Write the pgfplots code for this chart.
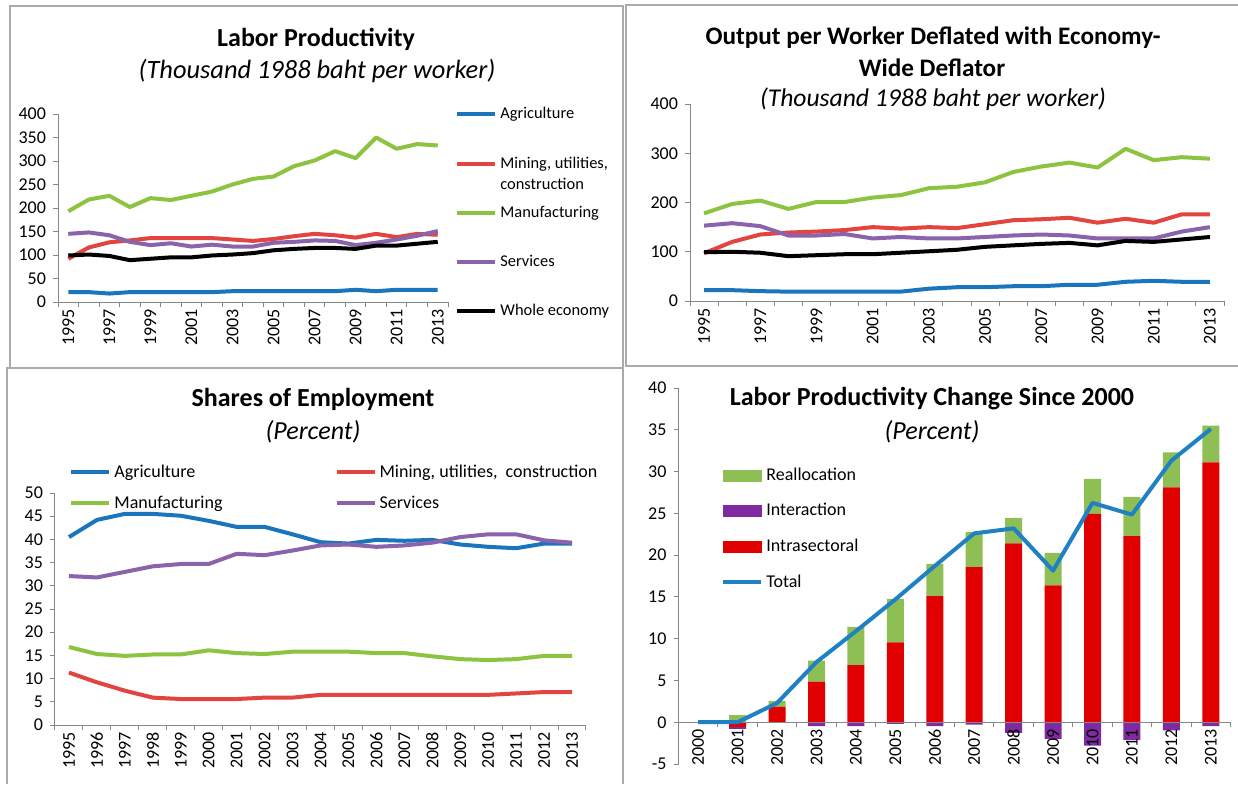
\documentclass[border=0pt]{standalone}
\usepackage{fontspec}
\setmainfont{Carlito}
\usepackage{pgfplots}
\usepackage{pgfplotstable}
\pgfplotsset{compat=1.18}

\definecolor{lblue}{HTML}{1B75BC}
\definecolor{lred}{HTML}{E2453F}
\definecolor{lgreen}{HTML}{8CC341}
\definecolor{lpurple}{HTML}{8B62AC}
\definecolor{barred}{HTML}{E00000}
\definecolor{barpurple}{HTML}{7F2AA0}
\definecolor{bargreen}{HTML}{8EBF55}
\definecolor{totblue}{HTML}{1F80C4}
\definecolor{axisgray}{HTML}{878787}
\definecolor{framegray}{HTML}{ABABAB}

% labor productivity, thousand 1988 baht per worker (index 0 = 1995)
\pgfplotstableread{
i agr min man ser all
0 21 92 193 145 99
1 21 116 218 148 101
2 18 127 226 142 98
3 21 131 202 128 89
4 21 136 221 121 92
5 21 136 217 125 95
6 21 136 226 118 95
7 21 136 235 122 99
8 23 133 250 118 101
9 23 130 262 118 104
10 23 134 267 126 110
11 23 140 289 128 113
12 23 145 301 131 115
13 23 142 321 130 115
14 26 137 306 121 113
15 23 145 350 126 120
16 26 138 326 133 120
17 26 145 336 141 124
18 26 143 333 151 128
}\prodA

% output per worker, economy-wide deflator
\pgfplotstableread{
i agr min man ser all
0 22 97 178 153 99
1 22 120 197 158 100
2 20 135 204 152 98
3 19 139 187 133 91
4 19 141 201 133 93
5 19 144 201 136 95
6 19 150 210 127 95
7 19 147 215 130 98
8 25 150 229 127 101
9 28 148 232 127 104
10 28 156 241 130 110
11 30 164 262 133 113
12 30 166 273 135 116
13 33 169 281 133 118
14 33 159 271 127 113
15 39 167 309 127 122
16 41 159 286 127 120
17 39 176 292 141 125
18 39 176 289 150 130
}\prodB

% shares of employment, percent
\pgfplotstableread{
i agr min man ser
0 40.5 11.3 16.8 32.1
1 44.2 9.2 15.3 31.8
2 45.5 7.4 14.9 33.0
3 45.5 5.9 15.2 34.2
4 45.1 5.6 15.2 34.7
5 44.0 5.6 16.1 34.7
6 42.7 5.6 15.5 36.9
7 42.7 5.9 15.3 36.6
8 41.1 5.9 15.8 37.6
9 39.4 6.5 15.8 38.7
10 39.1 6.5 15.8 38.9
11 39.9 6.5 15.5 38.4
12 39.7 6.5 15.5 38.7
13 39.9 6.5 14.8 39.3
14 38.9 6.5 14.2 40.5
15 38.4 6.5 14.0 41.1
16 38.1 6.8 14.2 41.1
17 39.1 7.1 14.9 39.8
18 39.1 7.1 14.9 39.3
}\shares

% productivity change since 2000 (index 0 = 2000)
\pgfplotstableread{
i intra inter realloc tot
0 0 0 0 0
1 -0.55 -0.25 0.85 0
2 1.85 0 0.70 2.3
3 4.87 -0.48 2.51 7.2
4 6.82 -0.48 4.59 10.9
5 9.57 -0.20 5.19 14.7
6 15.08 -0.48 3.87 18.7
7 18.55 -0.28 4.19 22.6
8 21.42 -1.28 3.03 23.2
9 16.39 -2.00 3.87 18.15
10 24.93 -2.79 4.19 26.25
11 22.26 -2.15 4.70 24.85
12 28.12 -0.96 4.19 31.3
13 31.11 -0.48 4.39 35.1
}\chg

\pgfplotsset{
  panel/.style={
    scale only axis, anchor=south west, clip=false,
    axis x line*=bottom, axis y line*=left,
    axis line style={draw=axisgray, line width=0.5pt, -},
    tick style={draw=axisgray, line width=0.5pt},
    tick align=outside, major tick length=2.5pt,
    tick label style={font=\fontsize{9}{10}\selectfont},
    /pgf/number format/assume math mode=true,
    xticklabel style={rotate=90, anchor=east},
    xticklabels={},
    extra x tick style={major tick length=0pt},
    legend cell align=left,
  },
  ln/.style={line width=2pt, line join=round, mark=none},
  chgbox/.style={scale only axis, anchor=south west, at={(339.25pt,10pt)},
    width=276pt, height=188pt, xmin=-0.5, xmax=13.5, ymin=-5, ymax=40},
}

\begin{document}
\begin{tikzpicture}
\useasboundingbox (0pt,0pt) rectangle (619pt,392pt);

% panel frames
\draw[framegray, line width=0.75pt] (5pt,208pt) rectangle (311.5pt,389pt);
\draw[framegray, line width=0.75pt] (619pt,389.5pt) -- (313pt,389.5pt) -- (313pt,209pt) -- (619pt,209pt);
\draw[framegray, line width=0.75pt] (3.5pt,0pt) -- (3.5pt,208pt) -- (311.5pt,208pt) -- (311.5pt,0pt);

% titles
\node[font=\fontsize{13}{15}\selectfont\bfseries] at (158pt,372.5pt) {Labor Productivity};
\node[font=\fontsize{13.2}{15}\selectfont\itshape] at (158.5pt,356.5pt) {(Thousand 1988 baht per worker)};
\node[font=\fontsize{12.6}{15}\selectfont\bfseries] at (466.5pt,373pt) {Output per Worker Deflated with Economy-};
\node[font=\fontsize{12.6}{15}\selectfont\bfseries] at (466pt,358pt) {Wide Deflator};
\node[font=\fontsize{12.8}{15}\selectfont\itshape] at (466.5pt,342.5pt) {(Thousand 1988 baht per worker)};
\node[font=\fontsize{13}{15}\selectfont\bfseries] at (156.5pt,192.5pt) {Shares of Employment};
\node[font=\fontsize{13}{15}\selectfont\itshape] at (156.5pt,176pt) {(Percent)};
\node[font=\fontsize{13}{15}\selectfont\bfseries] at (466pt,192.5pt) {Labor Productivity Change Since 2000};
\node[font=\fontsize{13}{15}\selectfont\itshape] at (466pt,176pt) {(Percent)};

% ---- top left: labor productivity
\begin{axis}[panel, at={(29pt,241pt)}, width=195pt, height=94pt,
  xmin=-0.5, xmax=18.5, ymin=0, ymax=400, ytick={0,50,...,400},
  xtick={-0.5,0.5,...,18.5},
  extra x ticks={0,2,...,18},
  extra x tick labels={1995,1997,1999,2001,2003,2005,2007,2009,2011,2013},
  legend style={at={(1.018,1.040)}, anchor=north west, draw=none, fill=none,
    inner sep=0pt, row sep=17.1pt, font=\fontsize{8.2}{10.8}\selectfont,
    nodes={inner sep=0pt, text height=6pt, text depth=1.5pt},
    /tikz/every odd column/.style={column sep=1.5pt}},
  legend image code/.code={\draw[#1, line width=2pt] (0pt,0pt) -- (19pt,0pt);},
]
\addplot[ln, lblue] table[x=i, y=agr] {\prodA};
\addlegendentry{Agriculture}
\addplot[ln, lred] table[x=i, y=min] {\prodA};
\addlegendentry{\parbox[t]{80pt}{\raggedright Mining, utilities,\par construction}}
\addplot[ln, lgreen] table[x=i, y=man] {\prodA};
\addlegendentry{Manufacturing}
\addplot[ln, lpurple] table[x=i, y=ser] {\prodA};
\addlegendentry{Services}
\addplot[ln, black] table[x=i, y=all] {\prodA};
\addlegendentry{Whole economy}
\end{axis}

% ---- top right: output per worker, economy-wide deflator
\begin{axis}[panel, at={(345pt,241.5pt)}, width=267pt, height=98.5pt,
  xmin=-0.5, xmax=18.5, ymin=0, ymax=400, ytick={0,100,...,400},
  xtick={-0.5,0.5,...,18.5},
  extra x ticks={0,2,...,18},
  extra x tick labels={1995,1997,1999,2001,2003,2005,2007,2009,2011,2013},
]
\addplot[ln, lblue] table[x=i, y=agr] {\prodB};
\addplot[ln, lred] table[x=i, y=min] {\prodB};
\addplot[ln, lgreen] table[x=i, y=man] {\prodB};
\addplot[ln, lpurple] table[x=i, y=ser] {\prodB};
\addplot[ln, black] table[x=i, y=all] {\prodB};
\end{axis}

% ---- bottom left: shares of employment
\begin{axis}[panel, at={(27.5pt,29.5pt)}, width=265.5pt, height=116pt,
  xmin=-0.5, xmax=18.5, ymin=0, ymax=50, ytick={0,5,...,50},
  xtick={-0.5,0.5,...,18.5},
  extra x ticks={0,1,...,18},
  extra x tick labels={1995,1996,1997,1998,1999,2000,2001,2002,2003,2004,2005,2006,2007,2008,2009,2010,2011,2012,2013},
  legend columns=2,
  legend style={at={(0.0264,1.126)}, anchor=north west, draw=none, fill=none,
    inner sep=0pt, row sep=7.3pt, font=\fontsize{9}{10}\selectfont,
    nodes={inner sep=0pt, text height=6.5pt, text depth=1.7pt},
    /tikz/every odd column/.style={column sep=1.5pt},
    /tikz/every even column/.style={column sep=56pt}},
  legend image code/.code={\draw[#1, line width=2pt] (0pt,0pt) -- (19pt,0pt);},
]
\addplot[ln, lblue] table[x=i, y=agr] {\shares};
\addlegendentry{Agriculture}
\addplot[ln, lred] table[x=i, y=min] {\shares};
\addlegendentry{Mining, utilities,\ \ construction}
\addplot[ln, lgreen] table[x=i, y=man] {\shares};
\addlegendentry{Manufacturing}
\addplot[ln, lpurple] table[x=i, y=ser] {\shares};
\addlegendentry{Services}
\end{axis}

% ---- bottom right: decomposition of productivity change
\begin{axis}[panel, chgbox, axis on top,
  axis x line*=middle,
  ybar stacked, stack negative=separate, bar width=8.5pt,
  ytick={-5,0,...,40},
  xtick={-0.5,0.5,...,13.5},
  extra x ticks={0,1,...,13},
  extra x tick labels={2000,2001,2002,2003,2004,2005,2006,2007,2008,2009,2010,2011,2012,2013},
  legend style={at={(0.077,0.7904)}, anchor=north west, draw=none, fill=none,
    inner sep=0pt, row sep=9.6pt, font=\fontsize{9}{10}\selectfont,
    nodes={inner sep=0pt, text height=6.5pt, text depth=1.7pt},
    /tikz/every odd column/.style={column sep=1.5pt}},
]
\addplot[fill=barred, draw=none, forget plot] table[x=i, y=intra] {\chg};
\addplot[fill=barpurple, draw=none, forget plot] table[x=i, y=inter] {\chg};
\addplot[fill=bargreen, draw=none, forget plot] table[x=i, y=realloc] {\chg};
\addlegendimage{legend image code/.code={\fill[bargreen] (0pt,-2.75pt) rectangle (19pt,2.75pt);}}
\addlegendentry{Reallocation}
\addlegendimage{legend image code/.code={\fill[barpurple] (0pt,-2.75pt) rectangle (19pt,2.75pt);}}
\addlegendentry{Interaction}
\addlegendimage{legend image code/.code={\fill[barred] (0pt,-2.75pt) rectangle (19pt,2.75pt);}}
\addlegendentry{Intrasectoral}
\addlegendimage{legend image code/.code={\draw[totblue, line width=2pt] (0pt,0pt) -- (19pt,0pt);}}
\addlegendentry{Total}
\end{axis}
% total change line drawn over the bars
\begin{axis}[chgbox, hide axis, clip=false]
\addplot[ln, totblue] table[x=i, y=tot] {\chg};
\end{axis}
\end{tikzpicture}
\end{document}
